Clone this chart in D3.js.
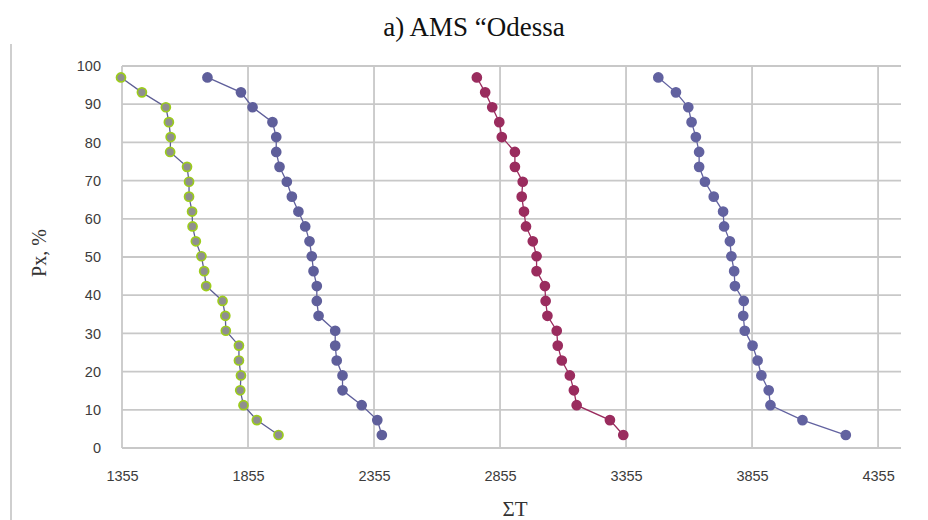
<!DOCTYPE html>
<html>
<head>
<meta charset="utf-8">
<script src="https://cdn.jsdelivr.net/npm/d3@7"></script>
<style>
  body { margin: 0; background: #fff; }
  svg { display: block; }
  .tick text { font-family: "Liberation Sans", Arial, sans-serif; font-size: 14.5px; fill: #3c3c3c; }
</style>
</head>
<body>
<div id="chart"></div>
<script>
// probability of exceedance, %, shared by all series (bottom to top)
const px = [3.4, 7.3, 11.2, 15.1, 19.0, 22.9, 26.8, 30.7, 34.6, 38.5, 42.4, 46.3, 50.2,
            54.1, 58.0, 61.9, 65.8, 69.7, 73.6, 77.5, 81.4, 85.3, 89.2, 93.1, 97.0];

// sums of temperatures, one array per curve (same order as px)
const sumT1 = [1976, 1890, 1837, 1824, 1827, 1819, 1819, 1767, 1765, 1754, 1689, 1681, 1670,
               1648, 1635, 1633, 1621, 1621, 1613, 1546, 1548, 1541, 1529, 1434, 1351];
const sumT2 = [2386, 2368, 2306, 2230, 2230, 2207, 2201, 2201, 2135, 2128, 2128, 2115, 2108,
               2099, 2082, 2055, 2029, 2009, 1980, 1967, 1967, 1952, 1873, 1827, 1694];
const sumT3 = [3344, 3291, 3159, 3148, 3132, 3100, 3084, 3080, 3043, 3036, 3033, 3000, 3000,
               2985, 2958, 2950, 2941, 2945, 2914, 2914, 2862, 2852, 2824, 2796, 2763];
const sumT4 = [4227, 4055, 3928, 3921, 3892, 3877, 3857, 3826, 3820, 3822, 3787, 3784, 3773,
               3767, 3744, 3740, 3703, 3668, 3645, 3645, 3632, 3615, 3602, 3553, 3483];

const xTicks = [1355, 1855, 2355, 2855, 3355, 3855, 4355];
const yTicks = [0, 10, 20, 30, 40, 50, 60, 70, 80, 90, 100];

const series = [
  { values: sumT1, line: '#5e5e94', fill: '#8f8f8f', stroke: '#9ccc1c' },
  { values: sumT2, line: '#5f5f9b', fill: '#5f5f9b', stroke: '#5f5f9b' },
  { values: sumT3, line: '#9a2c5e', fill: '#9a2c5e', stroke: '#9a2c5e' },
  { values: sumT4, line: '#6262a0', fill: '#6262a0', stroke: '#6262a0' },
];

const width = 928, height = 520;
const margin = { top: 66, right: 27, bottom: 72, left: 122 };
const innerW = width - margin.left - margin.right;
const innerH = height - margin.top - margin.bottom;

const svg = d3.select('#chart').append('svg')
  .attr('width', width)
  .attr('height', height);

// outer frame edge on the left
svg.append('line')
  .attr('x1', 11).attr('x2', 11)
  .attr('y1', 44).attr('y2', height)
  .attr('stroke', '#cfcfcf')
  .attr('stroke-width', 2);

svg.append('text')
  .attr('x', 474)
  .attr('y', 36)
  .attr('text-anchor', 'middle')
  .attr('font-family', '"Liberation Serif", "Times New Roman", serif')
  .attr('font-size', 27)
  .attr('fill', '#111')
  .text('a) AMS \u201cOdessa');

const g = svg.append('g')
  .attr('transform', `translate(${margin.left},${margin.top})`);

const x = d3.scaleLinear().domain([1355, 4446]).range([0, innerW]);
const y = d3.scaleLinear().domain([0, 100]).range([innerH, 0]);

// grid
g.append('g')
  .selectAll('line')
  .data(yTicks)
  .join('line')
  .attr('x1', 0).attr('x2', innerW)
  .attr('y1', (d) => y(d)).attr('y2', (d) => y(d))
  .attr('stroke', '#c8c8c8')
  .attr('stroke-width', 1.8);

g.append('g')
  .selectAll('line')
  .data(xTicks)
  .join('line')
  .attr('x1', (d) => x(d)).attr('x2', (d) => x(d))
  .attr('y1', 0).attr('y2', innerH)
  .attr('stroke', '#c8c8c8')
  .attr('stroke-width', 1.8);

// axes (labels only)
const xAxisG = g.append('g')
  .attr('transform', `translate(0,${innerH})`)
  .call(d3.axisBottom(x).tickValues(xTicks).tickSize(0).tickPadding(23).tickFormat((d) => d));
const yAxisG = g.append('g')
  .call(d3.axisLeft(y).tickValues(yTicks).tickSize(0).tickPadding(21));
xAxisG.select('.domain').remove();
yAxisG.select('.domain').remove();

// curves
const line = d3.line()
  .x((d) => x(d[0]))
  .y((d) => y(d[1]));

series.forEach((s) => {
  const pts = s.values.map((v, i) => [v, px[i]]);
  const sg = g.append('g');
  sg.append('path')
    .datum(pts)
    .attr('fill', 'none')
    .attr('stroke', s.line)
    .attr('stroke-width', 1.3)
    .attr('d', line);
  sg.selectAll('circle')
    .data(pts)
    .join('circle')
    .attr('cx', (d) => x(d[0]))
    .attr('cy', (d) => y(d[1]))
    .attr('r', 4.5)
    .attr('fill', s.fill)
    .attr('stroke', s.stroke)
    .attr('stroke-width', 1.7);
});

// axis titles
svg.append('text')
  .attr('transform', 'translate(46,253) rotate(-90)')
  .attr('text-anchor', 'middle')
  .attr('font-family', '"Liberation Serif", "Times New Roman", serif')
  .attr('font-size', 20)
  .attr('fill', '#333')
  .text('Px, %');

svg.append('text')
  .attr('x', 515)
  .attr('y', 516)
  .attr('text-anchor', 'middle')
  .attr('font-family', '"Liberation Serif", "Times New Roman", serif')
  .attr('font-size', 21)
  .attr('fill', '#333')
  .text('\u03a3T');
</script>
</body>
</html>
